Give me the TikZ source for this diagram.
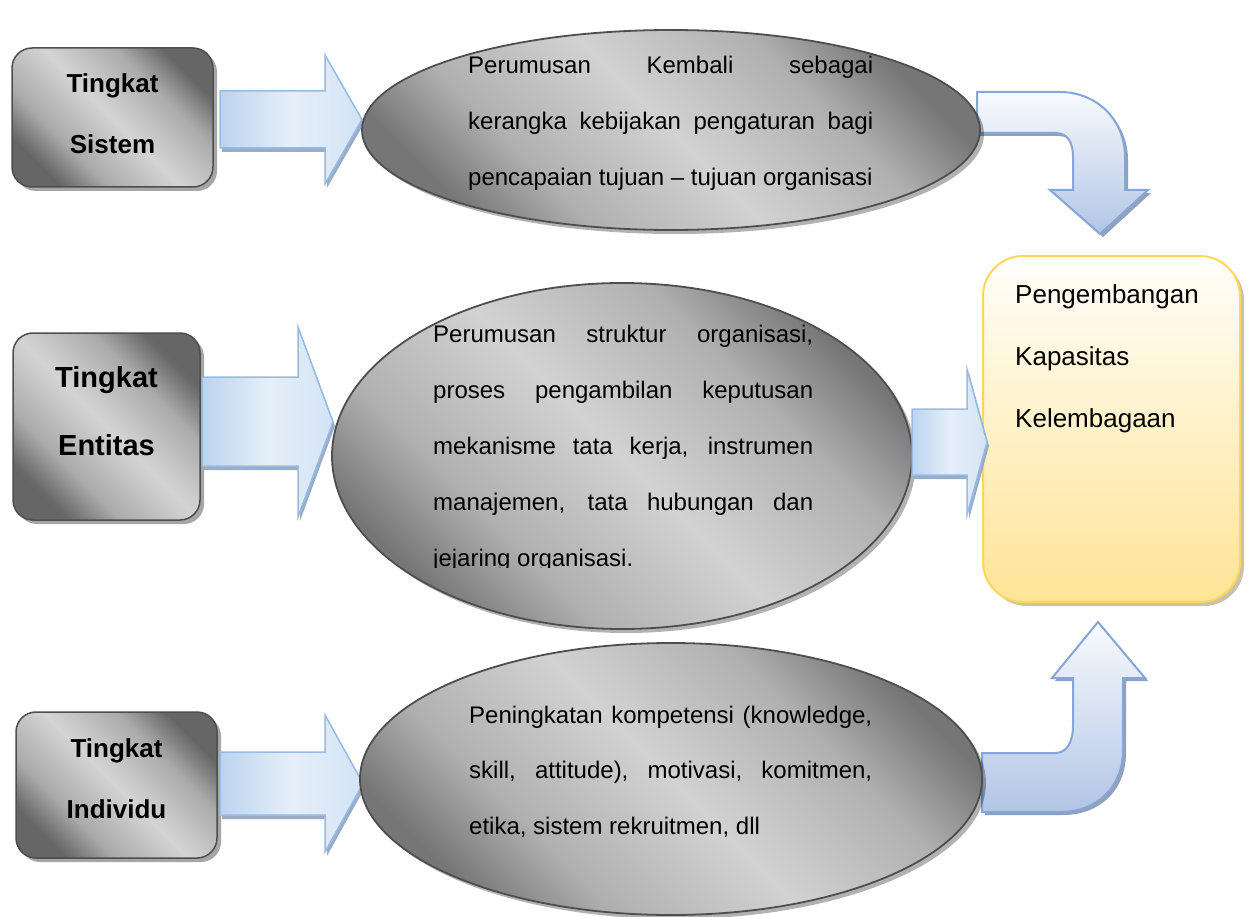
\documentclass[tikz,border=0pt]{standalone}
\usepackage{fontspec}
\setmainfont{Liberation Sans}
\usetikzlibrary{shapes.geometric,shadows}
\definecolor{gDark}{HTML}{666666}
\definecolor{gMid}{HTML}{ABABAB}
\definecolor{gLight}{HTML}{D4D4D4}
\definecolor{eDark}{HTML}{767676}
\definecolor{eMid}{HTML}{B0B0B0}
\definecolor{eLight}{HTML}{D2D2D2}
\definecolor{gBorder}{HTML}{4E4E4E}
\definecolor{sBlueA}{HTML}{BCD3EE}
\definecolor{sBlueB}{HTML}{E6EFF9}
\definecolor{sBlueC}{HTML}{D3E3F5}
\definecolor{sBorder}{HTML}{96BBE4}
\definecolor{sShadow}{HTML}{8FA5C4}
\definecolor{bTop}{HTML}{F8FAFD}
\definecolor{bBottom}{HTML}{B2C5E6}
\definecolor{bBorder}{HTML}{86A5D8}
\definecolor{bShadow}{HTML}{8797B3}
\definecolor{yTop}{HTML}{FFFEFA}
\definecolor{yBottom}{HTML}{FFE496}
\definecolor{yBorder}{HTML}{FFD75E}
\definecolor{yShadow}{HTML}{B5A98A}
\pgfdeclareverticalshading{boxband}{100bp}{color(0bp)=(gDark); color(25bp)=(gDark);
  color(35bp)=(gMid); color(50bp)=(gLight); color(65bp)=(gMid); color(75bp)=(gDark); color(100bp)=(gDark)}
\pgfdeclareverticalshading{ellband}{100bp}{color(0bp)=(eDark); color(25bp)=(eDark);
  color(35bp)=(eMid); color(50bp)=(eLight); color(65bp)=(eMid); color(75bp)=(eDark); color(100bp)=(eDark)}
\begin{document}
\begin{tikzpicture}[x=1pt,y=-1pt,
  levelbox/.style={rectangle, rounded corners=20pt, draw=gBorder, line width=1.5pt,
    shading=boxband, shading angle=-45,
    drop shadow={shadow xshift=4pt, shadow yshift=-4pt, fill=black, opacity=.35},
    inner sep=0pt},
  levelell/.style={ellipse, draw=gBorder, line width=1.8pt,
    shading=ellband, shading angle=-45,
    drop shadow={shadow xshift=4pt, shadow yshift=-4pt, fill=black, opacity=.3},
    inner sep=0pt},
  goalbox/.style={rectangle, rounded corners=40pt, draw=yBorder, line width=2pt,
    top color=yTop, bottom color=yBottom,
    drop shadow={shadow xshift=4pt, shadow yshift=-4pt, fill=yShadow, opacity=.7},
    inner sep=0pt},
  sarrow/.style={draw=sBorder, line width=1.5pt, line join=miter,
    left color=sBlueA, right color=sBlueC, middle color=sBlueB,
    drop shadow={shadow xshift=2pt, shadow yshift=-4pt, fill=sShadow, opacity=.9}},
  barrow/.style={draw=bBorder, line width=2pt, line join=miter,
    top color=bTop, bottom color=bBottom,
    drop shadow={shadow xshift=3pt, shadow yshift=-3pt, fill=bShadow, opacity=.9}},
  boxtext/.style={font=\bfseries\fontsize{26}{61}\selectfont, align=center, anchor=north, inner sep=0pt},
  etext/.style={font=\fontsize{24}{56}\selectfont, align=left, anchor=north west, inner sep=0pt},
  goaltext/.style={font=\fontsize{26}{62}\selectfont, align=left, anchor=north west, inner sep=0pt}
]
\useasboundingbox (0,0) rectangle (1250,917);
\fill[white] (0,0) rectangle (1250,917);

% goal box
\node[goalbox, minimum width=257pt, minimum height=346pt] (goal) at (1111.5,429) {};

% level boxes
\node[levelbox, minimum width=201pt, minimum height=139pt] (sys) at (112.5,117.5) {};
\node[levelbox, minimum width=187pt, minimum height=187pt] (ent) at (106.5,426.5) {};
\node[levelbox, minimum width=201pt, minimum height=146pt] (ind) at (116.5,785) {};

% straight block arrows
\path[sarrow] (220,91) -- (325,91) -- (325,55) -- (362,119.5) -- (325,184) -- (325,148) -- (220,148) -- cycle;
\path[sarrow] (202,377) -- (298,377) -- (298,327) -- (333,422) -- (298,517) -- (298,466) -- (202,466) -- cycle;
\path[sarrow] (220,752) -- (325,752) -- (325,715) -- (363,783.5) -- (325,852) -- (325,815) -- (220,815) -- cycle;

% bent arrows
\path[barrow] (977,92) -- (1060,92) .. controls (1097,92) and (1125,120) .. (1125,157)
  -- (1125,190) -- (1148,190) -- (1100,234) -- (1050,190) -- (1073,190) -- (1073,158)
  .. controls (1073,142) and (1068,133) .. (1055,133) -- (977,133) -- cycle;
\path[barrow] (982,753) -- (1055,753) .. controls (1067,753) and (1073,742) .. (1073,725)
  -- (1073,678) -- (1052,678) -- (1098,622) -- (1145,678) -- (1123,678) -- (1123,750)
  .. controls (1123,787) and (1097,812) .. (1060,812) -- (982,812) -- cycle;

% ellipses
\node[levelell, minimum width=618pt, minimum height=200pt] (e1) at (671,130) {};
\node[levelell, minimum width=580pt, minimum height=346pt] (e2) at (622,456) {};
\node[levelell, minimum width=622pt, minimum height=272pt] (e3) at (671,779) {};

% middle arrow into goal
\path[sarrow] (912,409) -- (967,409) -- (967,369) -- (987,442) -- (967,515) -- (967,475) -- (912,475) -- cycle;

% texts
\node[boxtext] (syst) at (112.5,73) {Tingkat\\Sistem};
\node[boxtext, font=\bfseries\fontsize{29}{68}\selectfont] (entt) at (106.5,366) {Tingkat\\Entitas};
\node[boxtext] (indt) at (116.5,738) {Tingkat\\Individu};

\node[etext] (e1t) at (468,56) {\makebox[405pt][s]{Perumusan Kembali sebagai}\\
  \makebox[405pt][s]{kerangka kebijakan pengaturan bagi}\\
  pencapaian tujuan – tujuan organisasi};

\begin{scope}
\clip (300,250) rectangle (950,567.5);
\node[etext] (e2t) at (433,324.5) {\makebox[380pt][s]{Perumusan struktur organisasi,}\\
  \makebox[380pt][s]{proses pengambilan keputusan}\\
  \makebox[380pt][s]{mekanisme tata kerja, instrumen}\\
  \makebox[380pt][s]{manajemen, tata hubungan dan}\\
  jejaring organisasi.};
\end{scope}

\node[etext, font=\fontsize{24}{55.5}\selectfont] (e3t) at (469,705.5) {\makebox[403pt][s]{Peningkatan kompetensi (knowledge,}\\
  \makebox[403pt][s]{skill, attitude), motivasi, komitmen,}\\
  etika, sistem rekruitmen, dll};

\node[goaltext] (goalt) at (1015,284) {Pengembangan\\Kapasitas\\Kelembagaan};
\end{tikzpicture}
\end{document}
